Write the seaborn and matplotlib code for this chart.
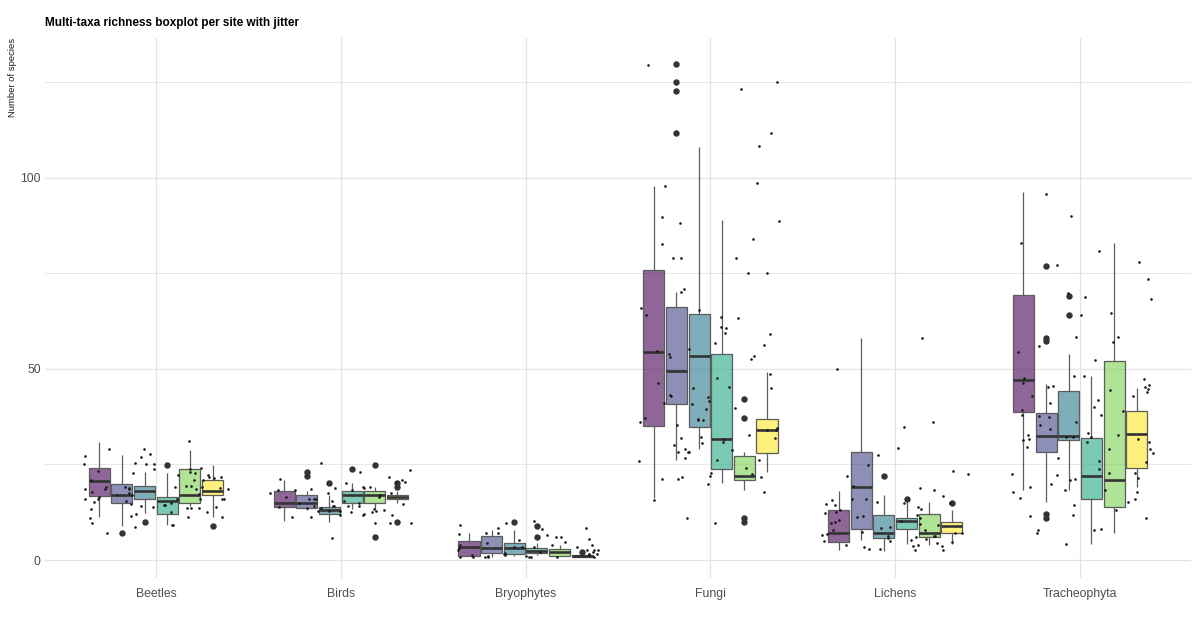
import numpy as np
import pandas as pd
import matplotlib
matplotlib.use("Agg")
import matplotlib.pyplot as plt
import seaborn as sns

# ---------------- data ----------------
taxa = ["Beetles", "Birds", "Bryophytes", "Fungi", "Lichens", "Tracheophyta"]
sites = ["Site 1", "Site 2", "Site 3", "Site 4", "Site 5", "Site 6"]

# box statistics: rows = taxa, columns = sites
whisker_low = [
    [11.2, 9.0, 12.2, 9.1, 14.1, 11.3],
    [10.1, 13.0, 10.0, 13.3, 13.3, 15.0],
    [1.0, 0.9, 1.0, 1.3, 1.0, 0.9],
    [16.2, 26.1, 29.1, 20.2, 18.3, 23.1],
    [2.7, 5.3, 2.3, 4.2, 4.0, 4.2],
    [18.2, 15.1, 18.2, 4.2, 7.0, 19.1],
]
q1 = [
    [16.8, 15.0, 15.9, 12.0, 14.8, 16.9],
    [13.8, 13.7, 12.0, 14.9, 14.9, 15.9],
    [1.0, 1.9, 1.6, 1.9, 1.0, 0.9],
    [35.2, 40.7, 34.7, 23.9, 20.9, 28.0],
    [4.7, 8.0, 5.8, 8.1, 6.0, 7.0],
    [38.8, 28.4, 31.4, 15.9, 14.0, 24.0],
]
median = [
    [20.6, 17.0, 18.1, 15.4, 17.0, 18.1],
    [15.0, 15.0, 13.0, 17.0, 17.0, 16.4],
    [3.5, 3.1, 3.1, 2.3, 2.1, 1.0],
    [54.5, 49.5, 53.5, 31.6, 22.0, 34.1],
    [7.1, 19.0, 7.1, 10.1, 7.1, 9.0],
    [47.0, 32.5, 32.5, 21.9, 20.9, 33.0],
]
q3 = [
    [24.0, 20.0, 19.5, 16.4, 23.9, 20.9],
    [18.0, 16.9, 14.0, 18.0, 18.0, 16.9],
    [5.1, 6.3, 4.5, 3.1, 3.0, 1.2],
    [75.9, 66.1, 64.5, 53.9, 27.2, 37.0],
    [13.1, 28.2, 11.7, 11.1, 12.0, 10.0],
    [69.3, 38.4, 44.2, 31.9, 52.0, 39.0],
]
whisker_high = [
    [31.0, 27.4, 23.0, 22.8, 28.9, 24.9],
    [20.9, 18.0, 16.9, 20.1, 19.2, 18.0],
    [7.0, 7.9, 7.9, 4.4, 4.0, 1.5],
    [97.8, 70.1, 108.0, 89.0, 28.2, 49.1],
    [18.0, 58.0, 17.1, 15.1, 15.1, 13.2],
    [96.2, 46.0, 54.0, 48.1, 83.0, 44.9],
]
outliers = [
    [[], [7.0], [10.0], [24.9], [], [9.0]],
    [[], [23.0, 22.0], [20.1], [23.9], [24.9, 5.9], [20.1, 19.0, 10.0]],
    [[], [], [10.0], [9.0, 5.9], [], [2.0]],
    [[], [129.8, 125.0, 122.8, 111.8], [], [], [42.1, 37.2, 10.9, 10.0], []],
    [[], [], [22.0], [16.0], [], [15.0]],
    [[], [77.0, 58.1, 57.3, 12.0, 11.1], [69.1, 64.1], [], [], []],
]

# jittered observations per taxon
beetles_points = [29.1, 27.1, 27.7, 31.1, 29.1, 25.1, 25.1, 23.7, 21.8, 22.3, 23.9, 23.4,
                  21.4, 21.8, 19.2, 19.2, 16.1, 16.4, 18.5, 18.7, 20.9, 20.9, 22.9, 17.5,
                  15.9, 15.1, 13.5, 12.7, 11.0, 14.0, 14.1, 12.7, 11.3, 14.8, 14.3, 15.9,
                  18.5, 17.0, 17.0, 15.9, 13.3, 12.0, 9.8, 18.9, 17.9, 19.2, 17.2, 14.0,
                  13.6, 14.4, 9.1, 8.7, 7.1, 25.0, 23.1, 20.9, 18.7, 18.5, 15.5, 19.4,
                  19.4, 18.8, 26.9, 25.5, 24.0, 22.9, 22.3, 19.2, 16.1, 16.0, 14.6, 13.5,
                  11.3, 11.5, 9.2]
birds_points = [25.3, 18.8, 18.2, 17.5, 16.4, 14.1, 14.1, 12.8, 12.8, 13.5, 11.3, 13.1,
                9.8, 9.8, 20.5, 19.2, 19.2, 18.3, 17.0, 16.0, 15.4, 14.1, 12.7, 18.9,
                18.3, 15.9, 14.8, 11.8, 11.3, 5.8, 21.1, 18.5, 14.0, 12.8, 12.7, 9.6,
                14.8, 13.5, 12.0, 23.1, 21.8, 20.1, 20.9, 17.5, 15.9, 15.4, 14.7, 13.3,
                12.8, 11.8, 11.8, 14.1, 14.1, 23.6, 20.5, 17.5, 16.4]
bryophytes_points = [10.3, 9.6, 8.3, 7.0, 5.4, 4.4, 3.5, 2.6, 2.2, 1.3, 0.9, 0.7, 0.7,
                     0.9, 1.0, 1.3, 0.9, 1.7, 2.1, 0.9, 1.3, 2.6, 3.5, 6.1, 6.5, 6.8,
                     7.2, 5.9, 3.9, 3.5, 2.6, 1.0, 0.9, 1.7, 4.7, 5.2, 3.5, 2.6, 1.7,
                     9.1, 8.0, 8.4, 4.0, 4.0, 1.9, 0.9, 3.1]
fungi_points = [108.4, 129.6, 125.2, 123.3, 111.8, 98.7, 97.8, 89.7, 88.8, 88.1, 83.9,
                82.8, 79.0, 79.0, 79.0, 75.1, 75.0, 70.8, 70.2, 66.0, 65.3, 64.2, 63.7,
                63.3, 60.9, 60.7, 59.3, 59.1, 56.8, 56.3, 55.2, 54.8, 53.9, 53.4, 53.2,
                52.5, 48.8, 47.7, 46.4, 45.3, 45.1, 45.0, 43.3, 42.8, 42.6, 41.7, 41.0,
                40.9, 39.8, 39.4, 37.1, 36.9, 36.7, 36.7, 36.1, 35.4, 34.6, 34.1, 33.9,
                32.8, 32.1, 32.0, 32.0, 31.7, 30.9, 30.6, 30.2, 29.1, 28.8, 28.2, 28.3,
                28.2, 26.8, 26.3, 26.1, 25.9, 24.0, 22.9, 22.6, 22.1, 21.7, 21.7, 21.3,
                21.1, 20.0, 17.8, 15.8, 10.9, 9.8]
lichens_points = [58.0, 50.0, 36.1, 34.8, 29.4, 27.5, 24.9, 23.4, 22.5, 21.9, 19.4, 18.9,
                  18.2, 16.8, 16.0, 15.9, 15.6, 15.2, 14.9, 14.9, 14.7, 14.3, 13.9, 13.4,
                  13.0, 12.6, 12.3, 11.9, 11.4, 11.2, 10.9, 10.5, 10.2, 9.9, 9.7, 9.5,
                  9.2, 8.6, 8.5, 7.9, 7.8, 7.3, 7.1, 7.1, 6.8, 6.5, 6.4, 6.4, 6.2, 6.0,
                  5.8, 5.5, 5.3, 5.1, 4.9, 4.6, 4.4, 4.0, 3.7, 3.6, 3.4, 3.0, 2.5, 2.5,
                  2.9, 4.0]
tracheophyta_points = [95.9, 89.9, 83.0, 80.9, 78.0, 77.3, 73.5, 69.9, 68.8, 68.2, 64.7,
                       64.2, 58.3, 58.3, 57.0, 55.9, 54.5, 52.3, 48.1, 48.1, 47.6, 47.4,
                       46.3, 45.8, 45.6, 45.3, 45.3, 44.8, 44.6, 43.9, 43.0, 42.8, 42.0,
                       41.1, 40.0, 39.3, 38.9, 37.9, 37.9, 37.6, 37.3, 36.1, 35.3, 34.3,
                       33.2, 32.8, 32.8, 32.3, 32.3, 32.2, 31.8, 31.6, 31.3, 31.0, 30.8,
                       29.7, 29.0, 29.0, 28.0, 26.7, 26.0, 25.7, 23.9, 22.9, 22.7, 22.6,
                       22.2, 21.4, 21.2, 21.0, 19.8, 19.2, 18.2, 18.2, 17.9, 17.9, 16.0,
                       16.2, 15.2, 14.4, 13.1, 11.8, 11.4, 10.9, 8.1, 7.9, 7.9, 7.2, 4.2]

# ---------------- build tables for seaborn ----------------
def box_sample(lo, a, m_, b, hi, outs):
    """Sample whose quartiles/whiskers/fliers reproduce the given box statistics."""
    low = [o for o in outs if o < m_]
    high = [o for o in outs if o > m_]
    m = max(len(low), len(high)) + 1
    return (low + [lo] * (m - len(low)) + [a] * m + [m_] * m + [b]
            + [hi] * (m - len(high)) + high)

rows = []
for ti, taxon in enumerate(taxa):
    for si, site in enumerate(sites):
        vals = box_sample(whisker_low[ti][si], q1[ti][si], median[ti][si],
                          q3[ti][si], whisker_high[ti][si], outliers[ti][si])
        rows += [(taxon, site, v) for v in vals]
box_df = pd.DataFrame(rows, columns=["taxon", "site", "value"])

point_lists = [beetles_points, birds_points, bryophytes_points,
               fungi_points, lichens_points, tracheophyta_points]
pts_df = pd.DataFrame([(t, v) for t, pl in zip(taxa, point_lists) for v in pl],
                      columns=["taxon", "value"])

# ---------------- plot ----------------
site_colors = ["#440154", "#414487", "#2A788E", "#22A884", "#7AD151", "#FDE725"]

plt.rcParams["font.family"] = ["Liberation Sans", "DejaVu Sans"]

fig = plt.figure(figsize=(12, 6.18), dpi=100)
ax = fig.add_axes([45 / 1200, 1 - 578 / 618, (1191 - 45) / 1200, (578 - 38) / 618])

sns.boxplot(data=box_df, x="taxon", y="value", hue="site", order=taxa,
            hue_order=sites, palette=site_colors, saturation=1,
            width=0.735, gap=0.07, whis=1.5, showcaps=False,
            linecolor="#5c5c5c", linewidth=0.9,
            flierprops=dict(marker="o", markersize=3.6, markerfacecolor="#333333",
                            markeredgecolor="#333333", alpha=1),
            medianprops=dict(linewidth=1.9, color="#333333"),
            legend=False, ax=ax)
for p in ax.patches:
    fc = p.get_facecolor()
    p.set_facecolor((fc[0], fc[1], fc[2], 0.6))

np.random.seed(11)
sns.stripplot(data=pts_df, x="taxon", y="value", order=taxa, color="#1a1a1a",
              size=1.9, jitter=0.4, linewidth=0, ax=ax, zorder=4)

ax.set_xlim(-0.6, 5.6)
ax.set_ylim(-4.7, 136.6)
ax.set_yticks([0, 50, 100])
ax.set_yticks([25, 75, 125], minor=True)
ax.set_axisbelow(True)
ax.grid(which="major", color="#e3e3e3", linewidth=0.9)
ax.grid(which="minor", axis="y", color="#e3e3e3", linewidth=0.6)
ax.tick_params(which="both", length=0)
ax.tick_params(axis="x", labelsize=8.8, labelcolor="#4d4d4d", pad=7)
ax.tick_params(axis="y", labelsize=8.8, labelcolor="#4d4d4d", pad=3)
for s in ax.spines.values():
    s.set_visible(False)
ax.set_xlabel("")
ax.set_ylabel("Number of species", loc="top", fontsize=6.8, color="#1a1a1a")
ax.yaxis.set_label_coords((17 - 45) / 1146, 1.0)

fig.text(45 / 1200, 1 - 26 / 618, "Multi-taxa richness boxplot per site with jitter",
         fontsize=8.5, fontweight="bold", ha="left", va="baseline", color="black")

fig.savefig("out.png", dpi=100, facecolor="white")
